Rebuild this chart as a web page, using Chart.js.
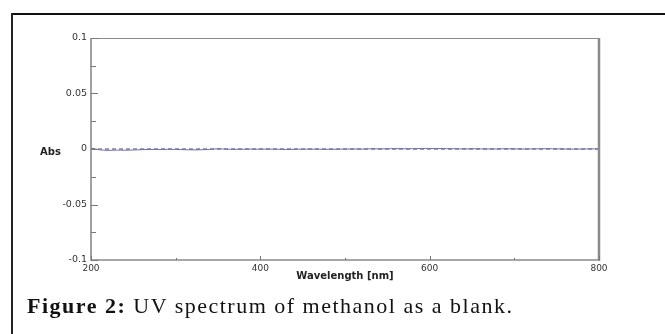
<!DOCTYPE html>
<html lang="en">
<head>
  <meta charset="UTF-8" />
  <title>UV spectrum of methanol</title>
  <script src="https://cdn.jsdelivr.net/npm/chart.js"></script>
  <style>
    html, body {
      margin: 0;
      padding: 0;
      background: #fff;
      width: 665px;
      height: 334px;
      overflow: hidden;
    }
    #wrap {
      position: relative;
      width: 665px;
      height: 334px;
    }
    #spectrum {
      position: absolute;
      left: 0;
      top: 0;
    }
    .frameTop {
      position: absolute;
      left: 11px;
      top: 13px;
      width: 654px;
      height: 2px;
      background: #111;
    }
    .frameLeft {
      position: absolute;
      left: 11px;
      top: 13px;
      width: 2px;
      height: 321px;
      background: #222;
    }
    .absLabel {
      position: absolute;
      left: 40px;
      top: 146px;
      font: bold 10px "DejaVu Sans", sans-serif;
      color: #222;
    }
    .caption {
      position: absolute;
      left: 27px;
      top: 293px;
      font-family: "Liberation Serif", serif;
      font-size: 22px;
      letter-spacing: 1.5px;
      color: #111;
      white-space: nowrap;
    }
  </style>
</head>
<body>
  <div id="wrap">
    <canvas id="spectrum" width="665" height="334"></canvas>
    <div class="frameTop"></div>
    <div class="frameLeft"></div>
    <div class="absLabel">Abs</div>
    <div class="caption"><b>Figure 2:</b> UV spectrum of methanol as a blank.</div>
  </div>

  <script>
    // wavelength in nm, absorbance
    const wavelength = [200, 210, 220, 230, 240, 250, 260, 270, 280, 290,
                        300, 310, 320, 330, 340, 350, 360, 370, 380, 390,
                        400, 410, 420, 430, 440, 450, 460, 470, 480, 490,
                        500, 510, 520, 530, 540, 550, 560, 570, 580, 590,
                        600, 610, 620, 630, 640, 650, 660, 670, 680, 690,
                        700, 710, 720, 730, 740, 750, 760, 770, 780, 790, 800];
    const absorbance = [0.0008, -0.0007, -0.0012, -0.0010, -0.0011, -0.0009, -0.0006, -0.0004, -0.0005, -0.0003,
                        -0.0004, -0.0006, -0.0008, -0.0007, -0.0004, 0.0002, -0.0002, -0.0003, -0.0002, -0.0001,
                        -0.0002, -0.0001, -0.0002, -0.0004, -0.0003, -0.0002, -0.0001, -0.0002, -0.0003, -0.0002,
                        -0.0001, 0.0000, -0.0001, 0.0002, 0.0001, 0.0002, 0.0003, 0.0002, 0.0003, 0.0004,
                        0.0005, 0.0004, 0.0003, 0.0002, 0.0001, 0.0002, 0.0001, 0.0000, 0.0001, 0.0002,
                        0.0001, 0.0000, 0.0001, 0.0002, 0.0003, 0.0001, 0.0000, -0.0001, 0.0000, 0.0001, 0.0000];
    const baselineX = [200, 800];
    const baselineY = [0, 0];

    const xMin = 200, xMax = 800, xStep = 100;
    const yMin = -0.1, yMax = 0.1, yStep = 0.025;
    const xLabelled = [200, 400, 600, 800];

    const isMajorY = v => Math.abs(v * 20 - Math.round(v * 20)) < 1e-6;

    // frame round the plot plus the small inward tick marks
    const plotFrame = {
      id: 'plotFrame',
      afterDraw(chart) {
        const { ctx, chartArea: a, scales } = chart;
        ctx.save();
        ctx.strokeStyle = '#8a8a8a';
        ctx.lineWidth = 1;
        ctx.beginPath();
        ctx.moveTo(a.left, a.top + 0.5);
        ctx.lineTo(a.right, a.top + 0.5);
        ctx.stroke();
        ctx.lineWidth = 1.6;
        ctx.beginPath();
        ctx.moveTo(a.left, a.top);
        ctx.lineTo(a.left, a.bottom);
        ctx.lineTo(a.right, a.bottom);
        ctx.stroke();
        ctx.lineWidth = 2.5;
        ctx.beginPath();
        ctx.moveTo(a.right, a.top);
        ctx.lineTo(a.right, a.bottom + 1);
        ctx.stroke();

        ctx.lineWidth = 1;
        ctx.strokeStyle = '#777';
        scales.y.ticks.forEach(t => {
          const y = Math.round(scales.y.getPixelForValue(t.value)) + 0.5;
          const len = isMajorY(t.value) ? 7 : 5;
          ctx.beginPath();
          ctx.moveTo(a.left, y);
          ctx.lineTo(a.left + len, y);
          ctx.stroke();
        });
        scales.x.ticks.forEach(t => {
          const x = Math.round(scales.x.getPixelForValue(t.value)) + 0.5;
          const len = xLabelled.includes(t.value) ? 4 : 2;
          ctx.beginPath();
          ctx.moveTo(x, a.bottom);
          ctx.lineTo(x, a.bottom - len);
          ctx.stroke();
        });
        ctx.restore();
      }
    };

    const ctx = document.getElementById('spectrum').getContext('2d');

    new Chart(ctx, {
      type: 'line',
      data: {
        datasets: [
          {
            label: 'Methanol',
            data: wavelength.map((w, i) => ({ x: w, y: absorbance[i] })),
            borderColor: '#6c6cb8',
            borderWidth: 1,
            pointRadius: 0,
            tension: 0.3
          },
          {
            label: 'Baseline',
            data: baselineX.map((w, i) => ({ x: w, y: baselineY[i] })),
            borderColor: '#444455',
            borderWidth: 1,
            borderDash: [4, 3],
            pointRadius: 0
          }
        ]
      },
      options: {
        responsive: false,
        animation: false,
        layout: {
          padding: { left: 0, top: 38, right: 66, bottom: 52 }
        },
        plugins: {
          legend: { display: false },
          tooltip: { enabled: false }
        },
        scales: {
          x: {
            type: 'linear',
            min: xMin,
            max: xMax,
            grid: { display: false, drawTicks: false },
            border: { display: false },
            ticks: {
              stepSize: xStep,
              autoSkip: false,
              maxRotation: 0,
              padding: 3,
              color: '#333',
              font: { family: 'DejaVu Sans', size: 9 },
              callback: v => xLabelled.includes(v) ? String(v) : ''
            },
            title: {
              display: true,
              text: 'Wavelength [nm]',
              color: '#222',
              padding: 0,
              font: { family: 'DejaVu Sans', size: 10, weight: 'bold' }
            },
            afterFit: s => { s.height = 22; }
          },
          y: {
            min: yMin,
            max: yMax,
            grid: { display: false, drawTicks: false },
            border: { display: false },
            ticks: {
              stepSize: yStep,
              autoSkip: false,
              padding: 4,
              color: '#333',
              font: { family: 'DejaVu Sans', size: 9.5 },
              callback: v => isMajorY(v) ? String(Math.round(v * 100) / 100) : ''
            },
            afterFit: s => { s.width = 91; }
          }
        }
      },
      plugins: [plotFrame]
    });
  </script>
</body>
</html>
